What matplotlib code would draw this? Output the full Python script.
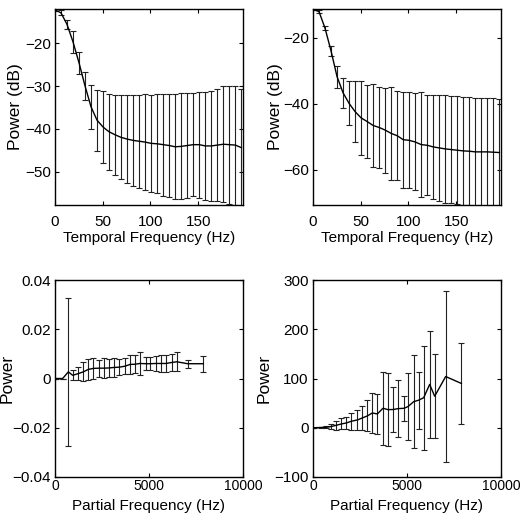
import matplotlib
matplotlib.use("Agg")
import matplotlib.pyplot as plt
from matplotlib.ticker import FuncFormatter

plt.rcParams['font.family'] = ['Liberation Sans', 'DejaVu Sans']
plt.rcParams['font.size'] = 11

# temporal frequency bins (Hz), top row
t_freq = [0, 6.3, 12.6, 18.9, 25.2, 31.5, 37.8, 44.1, 50.4, 56.7, 63.0, 69.3,
          75.6, 81.9, 88.2, 94.5, 100.8, 107.1, 113.4, 119.7, 126.0, 132.3,
          138.6, 144.9, 151.2, 157.5, 163.8, 170.1, 176.4, 182.7, 189.0, 195.3]

# top left: mean power (dB) and error
tl_mean = [-12.2, -12.9, -15.6, -19.7, -24.6, -30.0, -34.9, -38.0, -39.6, -40.7,
           -41.4, -42.0, -42.4, -42.7, -42.9, -43.1, -43.4, -43.5, -43.7, -43.9,
           -44.2, -44.1, -43.9, -43.7, -43.7, -44.0, -44.0, -43.8, -43.6, -43.7,
           -43.8, -44.4]
tl_err = [0.3, 0.6, 1.0, 2.6, 2.6, 3.3, 5.1, 7.1, 8.4, 8.9, 9.4, 9.8, 10.3, 10.6,
          10.9, 11.3, 11.4, 11.6, 11.9, 12.0, 12.3, 12.4, 12.2, 12.1, 12.4, 12.7,
          12.9, 13.0, 13.5, 13.8, 13.9, 13.6]

# top right
tr_mean = [-11.4, -12.1, -17.1, -24.0, -31.8, -36.7, -39.9, -42.4, -44.3, -45.4,
           -46.6, -47.2, -48.0, -49.0, -49.7, -50.9, -51.1, -51.6, -52.4, -52.6,
           -53.1, -53.4, -53.7, -53.9, -54.1, -54.3, -54.4, -54.6, -54.6, -54.6,
           -54.7, -54.8]
tr_err = [0.2, 0.4, 0.7, 1.5, 3.3, 4.6, 6.7, 9.2, 11.3, 11.2, 12.7, 12.4, 12.9,
          14.2, 13.4, 14.5, 14.5, 14.7, 16.0, 15.2, 15.8, 16.1, 16.3, 16.2, 16.4,
          16.4, 16.3, 16.4, 16.4, 16.3, 16.3, 16.2]

# partial frequency bins (Hz), bottom row
p_freq = [0, 408, 709, 940, 1241, 1507, 1773, 2039, 2358, 2624, 2890, 3156, 3422,
          3723, 3989, 4255, 4521, 4840, 5053, 5355, 5621, 5887, 6206, 6472, 7057, 7890]

# bottom left
bl_mean = [0, 0, 0.0027, 0.0013, 0.0020, 0.0027, 0.0037, 0.0041, 0.0042, 0.0042,
           0.0043, 0.0045, 0.0046, 0.0050, 0.0057, 0.0058, 0.0061, 0.0060, 0.0060,
           0.0061, 0.0061, 0.0061, 0.0065, 0.0068, 0.0060, 0.0060]
bl_err = [0, 0, 0.030, 0.0020, 0.0027, 0.0038, 0.0042, 0.0041, 0.0035, 0.0041,
          0.0038, 0.0037, 0.0032, 0.0032, 0.0037, 0.0037, 0.0047, 0.0027, 0.0027,
          0.0031, 0.0034, 0.0033, 0.0034, 0.0039, 0.0017, 0.0033]

# bottom right
br_mean = [0, 0.5, 1, 2.3, 5, 7.7, 9.7, 13.2, 15.8, 19.9, 24, 30, 28, 39.6, 36.8,
           37, 38.8, 39.5, 43, 53, 56, 61, 88, 64, 104, 90]
br_err = [0, 1, 2, 4.7, 9.1, 11.2, 12.9, 17.6, 20.3, 24.4, 31.5, 41.3, 41.3, 74,
          74.5, 45, 58, 25.4, 67.6, 94.7, 58.1, 105.9, 108.7, 85.5, 174, 82.6]

fig = plt.figure(figsize=(5.21, 5.29), dpi=100)
W, H = 521.0, 529.0


def make_ax(x0, y0, x1, y1):
    return fig.add_axes([x0 / W, 1 - y1 / H, (x1 - x0) / W, (y1 - y0) / H])


def fmt(v, pos):
    if abs(v) < 1e-12:
        return '0'
    return ('%g' % v).replace('-', '\u2212')


# axes, x, mean, err, xlim, ylim, xticks, yticks, xlabel, ylabel,
# ylabel x, x tick pad, x tick size, xlabel pad
panels = [
    (make_ax(55, 9, 243, 205), t_freq, tl_mean, tl_err, (0, 197), (-57.8, -12.0),
     [0, 50, 100, 150], [-50, -40, -30, -20], 'Temporal Frequency (Hz)', 'Power (dB)',
     -0.17, 7.5, 11, 1),
    (make_ax(313, 9, 501, 205), t_freq, tr_mean, tr_err, (0, 197), (-70.7, -11.3),
     [0, 50, 100, 150], [-60, -40, -20], 'Temporal Frequency (Hz)', 'Power (dB)',
     -0.16, 7.5, 11, 1),
    (make_ax(55, 280, 243, 477), p_freq, bl_mean, bl_err, (0, 10000), (-0.04, 0.04),
     [0, 5000, 10000], [-0.04, -0.02, 0, 0.02, 0.04], 'Partial Frequency (Hz)', 'Power',
     -0.215, 1.5, 10, 4),
    (make_ax(313, 280, 501, 477), p_freq, br_mean, br_err, (0, 10000), (-100, 300),
     [0, 5000, 10000], [-100, 0, 100, 200, 300], 'Partial Frequency (Hz)', 'Power',
     -0.218, 1.5, 10, 4),
]

for ax, x, m, e, xl, yl, xt, yt, xlab, ylab, lx, xpad, xsize, xlpad in panels:
    ax.errorbar(x, m, yerr=e, color='black', lw=1.0, elinewidth=0.8,
                ecolor='#222222', capsize=2, capthick=0.8)
    ax.set_xlim(*xl)
    ax.set_ylim(*yl)
    ax.set_xticks(xt)
    ax.set_yticks(yt)
    ax.xaxis.set_major_formatter(FuncFormatter(fmt))
    ax.yaxis.set_major_formatter(FuncFormatter(fmt))
    ax.set_xlabel(xlab, labelpad=xlpad, fontsize=11)
    ax.set_ylabel(ylab, fontsize=12.5)
    ax.yaxis.set_label_coords(lx, 0.5)
    ax.tick_params(direction='in', top=True, right=True, length=3, width=0.8)
    ax.tick_params(axis='x', pad=xpad, labelsize=xsize)
    ax.tick_params(axis='y', pad=3, labelsize=11)
    for s in ax.spines.values():
        s.set_linewidth(1.0)

fig.savefig('out.png', dpi=100)
